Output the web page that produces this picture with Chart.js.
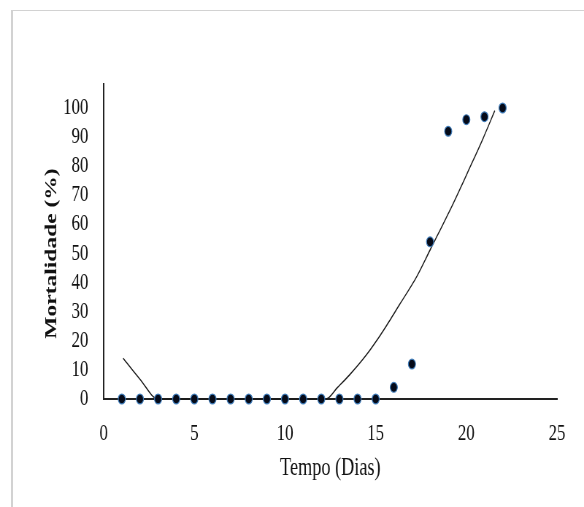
<!DOCTYPE html>
<html>
<head>
<meta charset="utf-8">
<script src="https://cdn.jsdelivr.net/npm/chart.js@4/dist/chart.umd.min.js"></script>
<style>
  html, body { margin: 0; padding: 0; background: #fff; overflow: hidden; }
  #frame { position: absolute; left: 11px; top: 10px; width: 600px; height: 520px;
           border-top: 1px solid #d2d2d2; border-left: 2px solid #d2d2d2; }
  #wrap { position: absolute; left: 0; top: 0; width: 800px; height: 507px;
          transform: scaleX(0.73); transform-origin: 0 0; }
</style>
</head>
<body>
<div id="frame"></div>
<div id="wrap"><canvas id="c" width="800" height="507"></canvas></div>
<script>
// Observed data (day, mortality %)
const days = [1, 2, 3, 4, 5, 6, 7, 8, 9, 10, 11, 12, 13, 14, 15, 16, 17, 18, 19, 20, 21, 22];
const mortality = [0, 0, 0, 0, 0, 0, 0, 0, 0, 0, 0, 0, 0, 0, 0, 4, 12, 54, 92, 96, 97, 100];

// Trend line (clipped at 0 by the axis)
const trendX = [1.07, 2, 3, 12.26, 12.9, 13.55, 14.47, 15.4, 16.32, 17.24, 18.0, 19.26, 20.19, 20.92, 21.57];
const trendY = [14, 6.8, 0, 0, 4, 8.2, 15, 23.3, 32.5, 41.8, 51.2, 67, 79.5, 89.5, 99.1];

const xTicks = [0, 5, 10, 15, 20, 25];
const yTicks = [0, 10, 20, 30, 40, 50, 60, 70, 80, 90, 100];

const xTitle = 'Tempo (Dias)';
const yTitle = 'Mortalidade (%)';

const points = days.map((d, i) => ({ x: d, y: mortality[i] }));
const trend = trendX.map((d, i) => ({ x: d, y: trendY[i] }));

const axisExtend = {
  id: 'axisExtend',
  afterDraw(chart) {
    const y = chart.scales.y, ctx = chart.ctx;
    const x0 = chart.chartArea.left;
    ctx.save();
    ctx.strokeStyle = '#222';
    ctx.lineWidth = 2;
    ctx.beginPath();
    ctx.moveTo(x0, y.getPixelForValue(100));
    ctx.lineTo(x0, y.getPixelForValue(108.6));
    ctx.stroke();
    ctx.restore();
  }
};

new Chart(document.getElementById('c'), {
  type: 'scatter',
  data: {
    datasets: [
      {
        type: 'scatter',
        data: points,
        order: 0,
        pointRadius: 4.9,
        pointBackgroundColor: '#050a18',
        pointBorderColor: '#3f7cba',
        pointBorderWidth: 1.2,
        clip: false
      },
      {
        type: 'line',
        data: trend,
        order: 1,
        showLine: true,
        borderColor: '#1a1a1a',
        borderWidth: 1.4,
        pointRadius: 0,
        fill: false,
        cubicInterpolationMode: 'monotone',
        clip: false
      }
    ]
  },
  plugins: [axisExtend],
  options: {
    responsive: false,
    animation: false,
    devicePixelRatio: 1,
    layout: { padding: { left: 15, top: 108, right: 37, bottom: 0 } },
    plugins: { legend: { display: false }, tooltip: { enabled: false } },
    scales: {
      x: {
        type: 'linear',
        min: xTicks[0],
        max: xTicks[xTicks.length - 1],
        afterBuildTicks: (s) => { s.ticks = xTicks.map(v => ({ value: v })); },
        afterFit: (s) => { s.height = 108; },
        grid: { display: false, drawTicks: false },
        border: { display: true, color: '#222', width: 2 },
        ticks: { autoSkip: false, maxRotation: 0, padding: 21, color: '#111',
                 font: { family: 'Liberation Serif', size: 23 } },
        title: { display: true, text: xTitle, color: '#111', padding: { top: 0, bottom: 24 },
                 font: { family: 'Liberation Serif', size: 25 } }
      },
      y: {
        type: 'linear',
        min: yTicks[0],
        max: yTicks[yTicks.length - 1],
        afterBuildTicks: (s) => { s.ticks = yTicks.map(v => ({ value: v })); },
        afterFit: (s) => { s.width = 127; },
        grid: { display: false, drawTicks: false },
        border: { display: true, color: '#222', width: 2 },
        ticks: { autoSkip: false, padding: 21, color: '#111',
                 font: { family: 'Liberation Serif', size: 23 } },
        title: { display: true, text: yTitle, color: '#111', padding: { top: 42, bottom: 0 },
                 font: { family: 'Liberation Serif', size: 23.5, weight: 'bold' } }
      }
    }
  }
});
</script>
</body>
</html>
